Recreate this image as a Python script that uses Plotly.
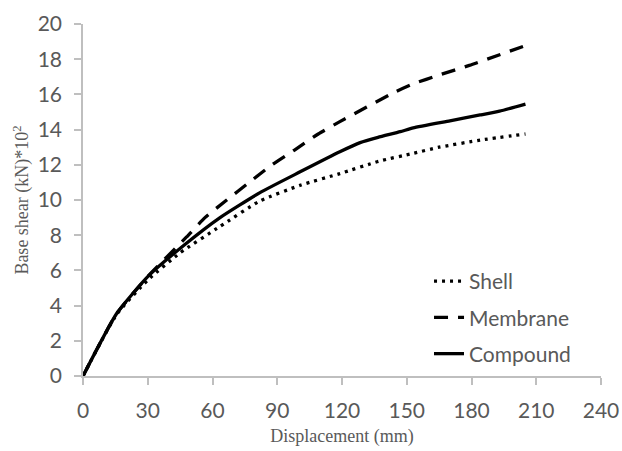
import plotly.graph_objects as go

# Displacement (mm) and base shear (kN*10^2)
shell_x = [0, 15.6, 30, 45, 63.5, 82, 101, 119, 137, 153, 165, 184, 205]
shell_y = [0, 3.5, 5.45, 7.0, 8.5, 9.95, 10.85, 11.5, 12.2, 12.65, 13.0, 13.4, 13.75]

memb_x = [0, 15.6, 30, 48, 56.5, 66.6, 77, 87, 98, 109, 119, 144, 153, 165, 179, 207]
memb_y = [0, 3.55, 5.65, 7.9, 9.0, 10.0, 11.0, 11.95, 12.84, 13.75, 14.45, 16.1, 16.6, 17.1, 17.65, 18.86]

comp_x = [0, 15.6, 30, 46.5, 63.5, 82, 100.6, 119, 128.4, 136.7, 147, 153, 170, 184, 193, 205]
comp_y = [0, 3.55, 5.65, 7.4, 9.0, 10.42, 11.6, 12.74, 13.26, 13.56, 13.88, 14.1, 14.5, 14.83, 15.05, 15.45]

x_ticks = [0, 30, 60, 90, 120, 150, 180, 210, 240]
y_ticks = [0, 2, 4, 6, 8, 10, 12, 14, 16, 18, 20]

fig = go.Figure()
fig.add_trace(go.Scatter(x=shell_x, y=shell_y, mode="lines", name="Shell",
                         legendgroup="a",
                         line=dict(color="black", width=3.3, dash="3px,5px", shape="spline", smoothing=0.5)))
fig.add_trace(go.Scatter(x=memb_x, y=memb_y, mode="lines", name="Membrane",
                         legendgroup="b",
                         line=dict(color="black", width=3.3, dash="14px,10px", shape="spline", smoothing=0.5)))
fig.add_trace(go.Scatter(x=comp_x, y=comp_y, mode="lines", name="Compound",
                         legendgroup="c",
                         line=dict(color="black", width=3.3, shape="spline", smoothing=0.5)))

tickfont = dict(family="Lato, Carlito, sans-serif", size=21, color="#595959")
titlefont = dict(family="Liberation Serif, Times New Roman, serif", size=18, color="#595959")

fig.update_layout(
    width=622, height=451,
    margin=dict(l=83, r=21, t=24, b=75, autoexpand=False),
    plot_bgcolor="white", paper_bgcolor="white",
    showlegend=True,
    legend=dict(x=0.668, y=0.327, xanchor="left", yanchor="top",
                font=tickfont, bgcolor="rgba(0,0,0,0)",
                tracegroupgap=6),
    xaxis=dict(range=[0, 240], tickvals=x_ticks, showgrid=False, zeroline=False,
               showline=True, linecolor="#bfbfbf", linewidth=1.5,
               ticks="outside", ticklen=7, tickcolor="#bfbfbf", tickwidth=1.5,
               tickfont=tickfont, ticklabelstandoff=8, automargin=False,
               title=dict(text="Displacement (mm)", font=titlefont, standoff=8)),
    yaxis=dict(range=[0, 20], tickvals=y_ticks, showgrid=False, zeroline=False,
               showline=True, linecolor="#bfbfbf", linewidth=1.5,
               ticks="outside", ticklen=7, tickcolor="#bfbfbf", tickwidth=1.5,
               tickfont=tickfont, ticklabelstandoff=8, automargin=False,
               title=dict(text="Base shear (kN)*10<sup>2</sup>", font=titlefont, standoff=4)),
)

# remove the default 8px page margin so the figure fills the window exactly
fig.write_html("out.html",
               config={"displayModeBar": False},
               post_script="document.body.style.margin='0';document.body.style.overflow='hidden';")
